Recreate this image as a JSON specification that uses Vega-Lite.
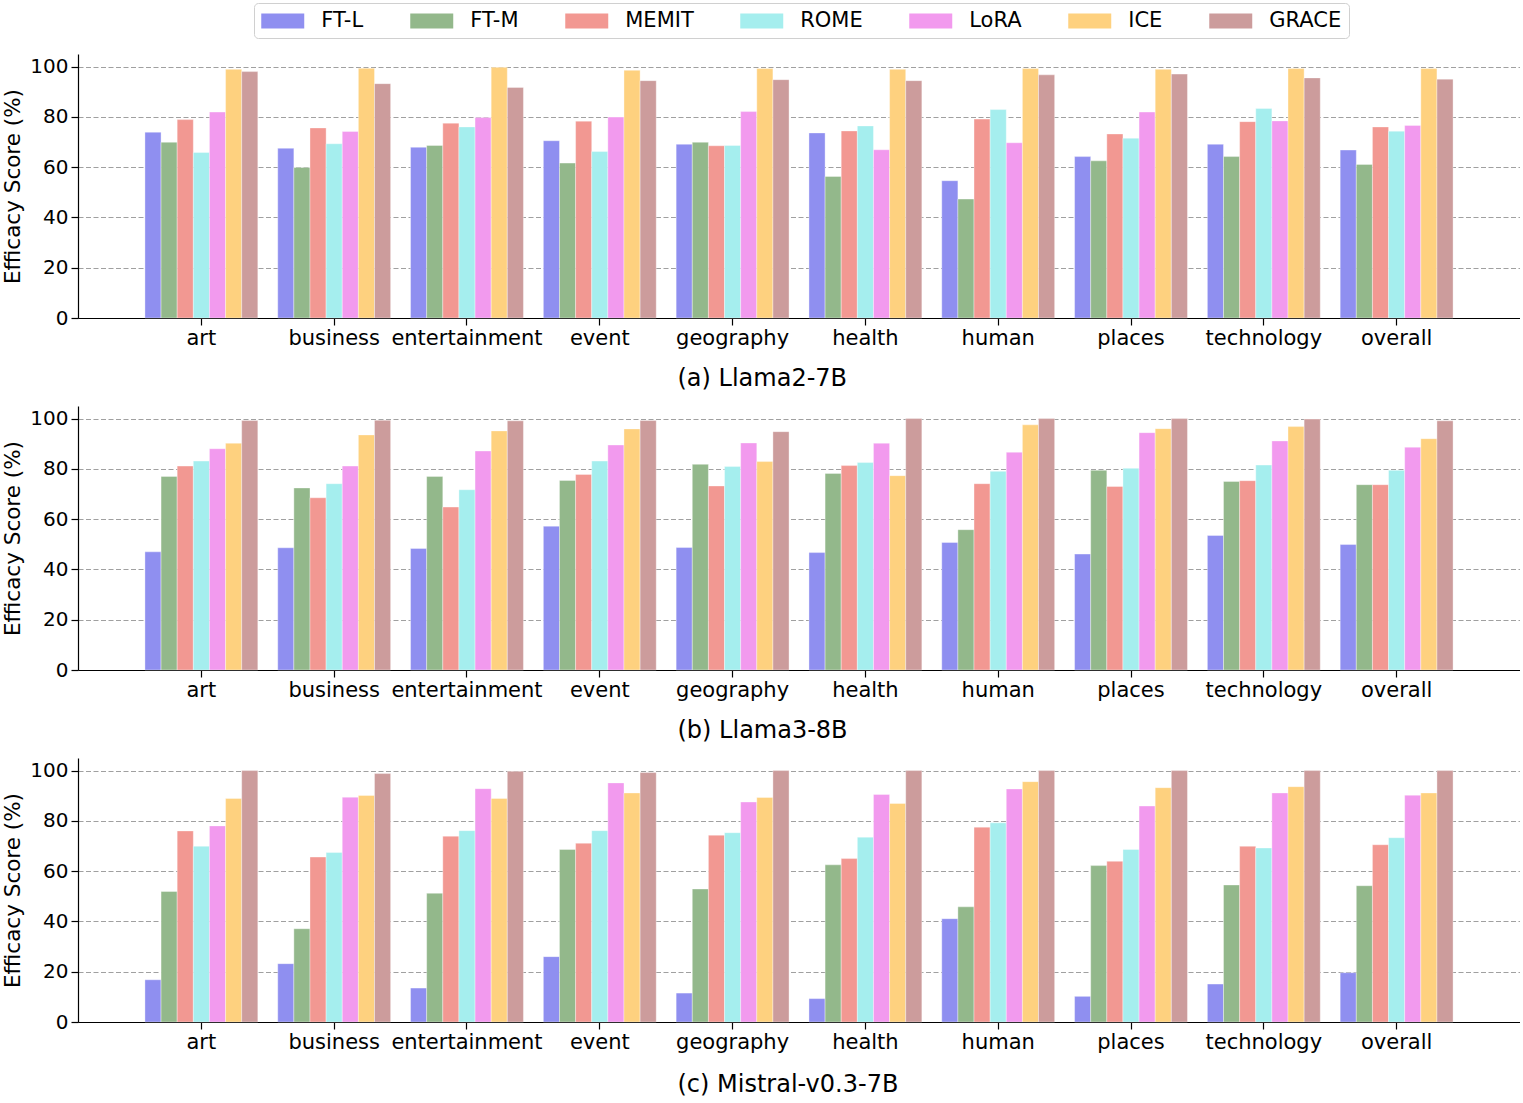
{
  "$schema": "https://vega.github.io/schema/vega-lite/v6.json",
  "autosize": {"type": "pad"},
  "padding": {"left": 2, "top": 2, "right": 0, "bottom": 0},
  "background": "white",
  "spacing": 16,
  "config": {
    "font": "DejaVu Sans",
    "view": {"stroke": null},
    "axis": {
      "labelColor": "black",
      "titleColor": "black",
      "domainColor": "black",
      "tickColor": "black",
      "labelFont": "DejaVu Sans",
      "titleFont": "DejaVu Sans",
      "titleFontWeight": "normal"
    },
    "legend": {"labelFont": "DejaVu Sans"}
  },
  "data": {
    "values": [
      {"model": "a", "category": "art", "method": "FT-L", "score": 73.9},
      {"model": "a", "category": "art", "method": "FT-M", "score": 69.9},
      {"model": "a", "category": "art", "method": "MEMIT", "score": 78.9},
      {"model": "a", "category": "art", "method": "ROME", "score": 65.8},
      {"model": "a", "category": "art", "method": "LoRA", "score": 81.9},
      {"model": "a", "category": "art", "method": "ICE", "score": 98.9},
      {"model": "a", "category": "art", "method": "GRACE", "score": 98.0},
      {"model": "a", "category": "business", "method": "FT-L", "score": 67.5},
      {"model": "a", "category": "business", "method": "FT-M", "score": 59.9},
      {"model": "a", "category": "business", "method": "MEMIT", "score": 75.6},
      {"model": "a", "category": "business", "method": "ROME", "score": 69.3},
      {"model": "a", "category": "business", "method": "LoRA", "score": 74.2},
      {"model": "a", "category": "business", "method": "ICE", "score": 99.3},
      {"model": "a", "category": "business", "method": "GRACE", "score": 93.2},
      {"model": "a", "category": "entertainment", "method": "FT-L", "score": 67.9},
      {"model": "a", "category": "entertainment", "method": "FT-M", "score": 68.6},
      {"model": "a", "category": "entertainment", "method": "MEMIT", "score": 77.5},
      {"model": "a", "category": "entertainment", "method": "ROME", "score": 76.0},
      {"model": "a", "category": "entertainment", "method": "LoRA", "score": 79.7},
      {"model": "a", "category": "entertainment", "method": "ICE", "score": 99.7},
      {"model": "a", "category": "entertainment", "method": "GRACE", "score": 91.7},
      {"model": "a", "category": "event", "method": "FT-L", "score": 70.5},
      {"model": "a", "category": "event", "method": "FT-M", "score": 61.6},
      {"model": "a", "category": "event", "method": "MEMIT", "score": 78.3},
      {"model": "a", "category": "event", "method": "ROME", "score": 66.2},
      {"model": "a", "category": "event", "method": "LoRA", "score": 79.9},
      {"model": "a", "category": "event", "method": "ICE", "score": 98.5},
      {"model": "a", "category": "event", "method": "GRACE", "score": 94.4},
      {"model": "a", "category": "geography", "method": "FT-L", "score": 69.1},
      {"model": "a", "category": "geography", "method": "FT-M", "score": 69.9},
      {"model": "a", "category": "geography", "method": "MEMIT", "score": 68.5},
      {"model": "a", "category": "geography", "method": "ROME", "score": 68.6},
      {"model": "a", "category": "geography", "method": "LoRA", "score": 82.1},
      {"model": "a", "category": "geography", "method": "ICE", "score": 99.2},
      {"model": "a", "category": "geography", "method": "GRACE", "score": 94.8},
      {"model": "a", "category": "health", "method": "FT-L", "score": 73.6},
      {"model": "a", "category": "health", "method": "FT-M", "score": 56.3},
      {"model": "a", "category": "health", "method": "MEMIT", "score": 74.4},
      {"model": "a", "category": "health", "method": "ROME", "score": 76.4},
      {"model": "a", "category": "health", "method": "LoRA", "score": 66.9},
      {"model": "a", "category": "health", "method": "ICE", "score": 98.9},
      {"model": "a", "category": "health", "method": "GRACE", "score": 94.4},
      {"model": "a", "category": "human", "method": "FT-L", "score": 54.6},
      {"model": "a", "category": "human", "method": "FT-M", "score": 47.3},
      {"model": "a", "category": "human", "method": "MEMIT", "score": 79.1},
      {"model": "a", "category": "human", "method": "ROME", "score": 82.9},
      {"model": "a", "category": "human", "method": "LoRA", "score": 69.7},
      {"model": "a", "category": "human", "method": "ICE", "score": 99.2},
      {"model": "a", "category": "human", "method": "GRACE", "score": 96.7},
      {"model": "a", "category": "places", "method": "FT-L", "score": 64.2},
      {"model": "a", "category": "places", "method": "FT-M", "score": 62.5},
      {"model": "a", "category": "places", "method": "MEMIT", "score": 73.2},
      {"model": "a", "category": "places", "method": "ROME", "score": 71.5},
      {"model": "a", "category": "places", "method": "LoRA", "score": 81.9},
      {"model": "a", "category": "places", "method": "ICE", "score": 98.9},
      {"model": "a", "category": "places", "method": "GRACE", "score": 97.0},
      {"model": "a", "category": "technology", "method": "FT-L", "score": 69.1},
      {"model": "a", "category": "technology", "method": "FT-M", "score": 64.2},
      {"model": "a", "category": "technology", "method": "MEMIT", "score": 78.1},
      {"model": "a", "category": "technology", "method": "ROME", "score": 83.3},
      {"model": "a", "category": "technology", "method": "LoRA", "score": 78.4},
      {"model": "a", "category": "technology", "method": "ICE", "score": 99.2},
      {"model": "a", "category": "technology", "method": "GRACE", "score": 95.5},
      {"model": "a", "category": "overall", "method": "FT-L", "score": 66.8},
      {"model": "a", "category": "overall", "method": "FT-M", "score": 61.1},
      {"model": "a", "category": "overall", "method": "MEMIT", "score": 76.0},
      {"model": "a", "category": "overall", "method": "ROME", "score": 74.3},
      {"model": "a", "category": "overall", "method": "LoRA", "score": 76.6},
      {"model": "a", "category": "overall", "method": "ICE", "score": 99.2},
      {"model": "a", "category": "overall", "method": "GRACE", "score": 95.0},

      {"model": "b", "category": "art", "method": "FT-L", "score": 47.0},
      {"model": "b", "category": "art", "method": "FT-M", "score": 77.0},
      {"model": "b", "category": "art", "method": "MEMIT", "score": 81.1},
      {"model": "b", "category": "art", "method": "ROME", "score": 83.1},
      {"model": "b", "category": "art", "method": "LoRA", "score": 88.0},
      {"model": "b", "category": "art", "method": "ICE", "score": 90.2},
      {"model": "b", "category": "art", "method": "GRACE", "score": 99.2},
      {"model": "b", "category": "business", "method": "FT-L", "score": 48.6},
      {"model": "b", "category": "business", "method": "FT-M", "score": 72.4},
      {"model": "b", "category": "business", "method": "MEMIT", "score": 68.5},
      {"model": "b", "category": "business", "method": "ROME", "score": 74.1},
      {"model": "b", "category": "business", "method": "LoRA", "score": 81.1},
      {"model": "b", "category": "business", "method": "ICE", "score": 93.5},
      {"model": "b", "category": "business", "method": "GRACE", "score": 99.3},
      {"model": "b", "category": "entertainment", "method": "FT-L", "score": 48.3},
      {"model": "b", "category": "entertainment", "method": "FT-M", "score": 77.0},
      {"model": "b", "category": "entertainment", "method": "MEMIT", "score": 64.8},
      {"model": "b", "category": "entertainment", "method": "ROME", "score": 71.7},
      {"model": "b", "category": "entertainment", "method": "LoRA", "score": 87.1},
      {"model": "b", "category": "entertainment", "method": "ICE", "score": 95.1},
      {"model": "b", "category": "entertainment", "method": "GRACE", "score": 99.1},
      {"model": "b", "category": "event", "method": "FT-L", "score": 57.2},
      {"model": "b", "category": "event", "method": "FT-M", "score": 75.4},
      {"model": "b", "category": "event", "method": "MEMIT", "score": 77.8},
      {"model": "b", "category": "event", "method": "ROME", "score": 83.1},
      {"model": "b", "category": "event", "method": "LoRA", "score": 89.5},
      {"model": "b", "category": "event", "method": "ICE", "score": 95.9},
      {"model": "b", "category": "event", "method": "GRACE", "score": 99.2},
      {"model": "b", "category": "geography", "method": "FT-L", "score": 48.7},
      {"model": "b", "category": "geography", "method": "FT-M", "score": 81.8},
      {"model": "b", "category": "geography", "method": "MEMIT", "score": 73.2},
      {"model": "b", "category": "geography", "method": "ROME", "score": 80.9},
      {"model": "b", "category": "geography", "method": "LoRA", "score": 90.3},
      {"model": "b", "category": "geography", "method": "ICE", "score": 82.9},
      {"model": "b", "category": "geography", "method": "GRACE", "score": 94.8},
      {"model": "b", "category": "health", "method": "FT-L", "score": 46.7},
      {"model": "b", "category": "health", "method": "FT-M", "score": 78.2},
      {"model": "b", "category": "health", "method": "MEMIT", "score": 81.3},
      {"model": "b", "category": "health", "method": "ROME", "score": 82.5},
      {"model": "b", "category": "health", "method": "LoRA", "score": 90.2},
      {"model": "b", "category": "health", "method": "ICE", "score": 77.3},
      {"model": "b", "category": "health", "method": "GRACE", "score": 100.0},
      {"model": "b", "category": "human", "method": "FT-L", "score": 50.7},
      {"model": "b", "category": "human", "method": "FT-M", "score": 55.8},
      {"model": "b", "category": "human", "method": "MEMIT", "score": 74.1},
      {"model": "b", "category": "human", "method": "ROME", "score": 79.0},
      {"model": "b", "category": "human", "method": "LoRA", "score": 86.6},
      {"model": "b", "category": "human", "method": "ICE", "score": 97.5},
      {"model": "b", "category": "human", "method": "GRACE", "score": 100.0},
      {"model": "b", "category": "places", "method": "FT-L", "score": 46.1},
      {"model": "b", "category": "places", "method": "FT-M", "score": 79.4},
      {"model": "b", "category": "places", "method": "MEMIT", "score": 73.0},
      {"model": "b", "category": "places", "method": "ROME", "score": 80.2},
      {"model": "b", "category": "places", "method": "LoRA", "score": 94.4},
      {"model": "b", "category": "places", "method": "ICE", "score": 96.0},
      {"model": "b", "category": "places", "method": "GRACE", "score": 100.0},
      {"model": "b", "category": "technology", "method": "FT-L", "score": 53.5},
      {"model": "b", "category": "technology", "method": "FT-M", "score": 75.0},
      {"model": "b", "category": "technology", "method": "MEMIT", "score": 75.3},
      {"model": "b", "category": "technology", "method": "ROME", "score": 81.5},
      {"model": "b", "category": "technology", "method": "LoRA", "score": 91.1},
      {"model": "b", "category": "technology", "method": "ICE", "score": 96.8},
      {"model": "b", "category": "technology", "method": "GRACE", "score": 99.8},
      {"model": "b", "category": "overall", "method": "FT-L", "score": 49.9},
      {"model": "b", "category": "overall", "method": "FT-M", "score": 73.7},
      {"model": "b", "category": "overall", "method": "MEMIT", "score": 73.7},
      {"model": "b", "category": "overall", "method": "ROME", "score": 79.4},
      {"model": "b", "category": "overall", "method": "LoRA", "score": 88.6},
      {"model": "b", "category": "overall", "method": "ICE", "score": 92.0},
      {"model": "b", "category": "overall", "method": "GRACE", "score": 99.1},

      {"model": "c", "category": "art", "method": "FT-L", "score": 16.8},
      {"model": "c", "category": "art", "method": "FT-M", "score": 51.9},
      {"model": "c", "category": "art", "method": "MEMIT", "score": 76.0},
      {"model": "c", "category": "art", "method": "ROME", "score": 69.9},
      {"model": "c", "category": "art", "method": "LoRA", "score": 78.0},
      {"model": "c", "category": "art", "method": "ICE", "score": 88.9},
      {"model": "c", "category": "art", "method": "GRACE", "score": 100.0},
      {"model": "c", "category": "business", "method": "FT-L", "score": 23.2},
      {"model": "c", "category": "business", "method": "FT-M", "score": 37.1},
      {"model": "c", "category": "business", "method": "MEMIT", "score": 65.6},
      {"model": "c", "category": "business", "method": "ROME", "score": 67.4},
      {"model": "c", "category": "business", "method": "LoRA", "score": 89.4},
      {"model": "c", "category": "business", "method": "ICE", "score": 90.1},
      {"model": "c", "category": "business", "method": "GRACE", "score": 98.8},
      {"model": "c", "category": "entertainment", "method": "FT-L", "score": 13.5},
      {"model": "c", "category": "entertainment", "method": "FT-M", "score": 51.2},
      {"model": "c", "category": "entertainment", "method": "MEMIT", "score": 73.9},
      {"model": "c", "category": "entertainment", "method": "ROME", "score": 76.1},
      {"model": "c", "category": "entertainment", "method": "LoRA", "score": 92.8},
      {"model": "c", "category": "entertainment", "method": "ICE", "score": 88.9},
      {"model": "c", "category": "entertainment", "method": "GRACE", "score": 99.7},
      {"model": "c", "category": "event", "method": "FT-L", "score": 26.0},
      {"model": "c", "category": "event", "method": "FT-M", "score": 68.6},
      {"model": "c", "category": "event", "method": "MEMIT", "score": 71.1},
      {"model": "c", "category": "event", "method": "ROME", "score": 76.1},
      {"model": "c", "category": "event", "method": "LoRA", "score": 95.1},
      {"model": "c", "category": "event", "method": "ICE", "score": 91.1},
      {"model": "c", "category": "event", "method": "GRACE", "score": 99.2},
      {"model": "c", "category": "geography", "method": "FT-L", "score": 11.5},
      {"model": "c", "category": "geography", "method": "FT-M", "score": 52.9},
      {"model": "c", "category": "geography", "method": "MEMIT", "score": 74.3},
      {"model": "c", "category": "geography", "method": "ROME", "score": 75.3},
      {"model": "c", "category": "geography", "method": "LoRA", "score": 87.5},
      {"model": "c", "category": "geography", "method": "ICE", "score": 89.3},
      {"model": "c", "category": "geography", "method": "GRACE", "score": 100.0},
      {"model": "c", "category": "health", "method": "FT-L", "score": 9.3},
      {"model": "c", "category": "health", "method": "FT-M", "score": 62.5},
      {"model": "c", "category": "health", "method": "MEMIT", "score": 65.0},
      {"model": "c", "category": "health", "method": "ROME", "score": 73.5},
      {"model": "c", "category": "health", "method": "LoRA", "score": 90.5},
      {"model": "c", "category": "health", "method": "ICE", "score": 86.9},
      {"model": "c", "category": "health", "method": "GRACE", "score": 100.0},
      {"model": "c", "category": "human", "method": "FT-L", "score": 41.1},
      {"model": "c", "category": "human", "method": "FT-M", "score": 45.8},
      {"model": "c", "category": "human", "method": "MEMIT", "score": 77.5},
      {"model": "c", "category": "human", "method": "ROME", "score": 79.2},
      {"model": "c", "category": "human", "method": "LoRA", "score": 92.7},
      {"model": "c", "category": "human", "method": "ICE", "score": 95.6},
      {"model": "c", "category": "human", "method": "GRACE", "score": 100.0},
      {"model": "c", "category": "places", "method": "FT-L", "score": 10.2},
      {"model": "c", "category": "places", "method": "FT-M", "score": 62.2},
      {"model": "c", "category": "places", "method": "MEMIT", "score": 63.9},
      {"model": "c", "category": "places", "method": "ROME", "score": 68.6},
      {"model": "c", "category": "places", "method": "LoRA", "score": 85.9},
      {"model": "c", "category": "places", "method": "ICE", "score": 93.2},
      {"model": "c", "category": "places", "method": "GRACE", "score": 100.0},
      {"model": "c", "category": "technology", "method": "FT-L", "score": 15.1},
      {"model": "c", "category": "technology", "method": "FT-M", "score": 54.5},
      {"model": "c", "category": "technology", "method": "MEMIT", "score": 69.9},
      {"model": "c", "category": "technology", "method": "ROME", "score": 69.2},
      {"model": "c", "category": "technology", "method": "LoRA", "score": 91.1},
      {"model": "c", "category": "technology", "method": "ICE", "score": 93.6},
      {"model": "c", "category": "technology", "method": "GRACE", "score": 100.0},
      {"model": "c", "category": "overall", "method": "FT-L", "score": 19.6},
      {"model": "c", "category": "overall", "method": "FT-M", "score": 54.2},
      {"model": "c", "category": "overall", "method": "MEMIT", "score": 70.5},
      {"model": "c", "category": "overall", "method": "ROME", "score": 73.3},
      {"model": "c", "category": "overall", "method": "LoRA", "score": 90.2},
      {"model": "c", "category": "overall", "method": "ICE", "score": 91.1},
      {"model": "c", "category": "overall", "method": "GRACE", "score": 100.0}
    ]
  },
  "vconcat": [
    {
      "width": 1442,
      "height": 264,
      "transform": [{"filter": "datum.model === 'a'"}],
      "mark": {"type": "bar", "stroke": "white", "strokeWidth": 0.6, "strokeOpacity": 0.6},
      "encoding": {
        "x": {
          "field": "category", "type": "nominal",
          "sort": ["art", "business", "entertainment", "event", "geography", "health", "human", "places", "technology", "overall"],
          "scale": {"paddingInner": 0.15, "paddingOuter": 0.504},
          "axis": {"title": "(a) Llama2-7B", "labelAngle": 0, "labelFontSize": 21, "tickSize": 7, "labelPadding": 2, "domainWidth": 1.2, "tickWidth": 1.2, "titleFontSize": 24, "titleX": 599, "titleY": 60, "titleAlign": "left", "titleBaseline": "middle", "grid": false}
        },
        "xOffset": {
          "field": "method", "type": "nominal",
          "sort": ["FT-L", "FT-M", "MEMIT", "ROME", "LoRA", "ICE", "GRACE"],
          "scale": {"paddingInner": 0, "paddingOuter": 0}
        },
        "y": {
          "field": "score", "type": "quantitative",
          "scale": {"domain": [0, 105], "nice": false},
          "axis": {"title": "Efficacy Score (%)", "values": [0, 20, 40, 60, 80, 100], "titleFontSize": 21.5, "labelFontSize": 20, "tickSize": 7, "labelPadding": 3, "titlePadding": 5, "gridDash": [5, 2.5], "gridColor": "#a0a0a0", "gridWidth": 1.1, "domainWidth": 1.2, "tickWidth": 1.2}
        },
        "color": {
          "field": "method", "type": "nominal",
          "scale": {"domain": ["FT-L", "FT-M", "MEMIT", "ROME", "LoRA", "ICE", "GRACE"], "range": ["#8f8ff0", "#93b88b", "#f29892", "#a5eeee", "#f29aee", "#fed17f", "#cc9c9c"]},
          "legend": {"title": null, "orient": "none", "legendX": 176, "legendY": -51, "direction": "horizontal", "symbolType": "M-2,-0.7H2V0.7H-2Z", "symbolSize": 462, "symbolOffset": 10.75, "symbolStrokeWidth": 0, "labelFontSize": 21, "labelOffset": 27.5, "columnPadding": 46, "padding": 7, "strokeColor": "#d0d0d0", "fillColor": "white", "cornerRadius": 4, "labelColor": "black"}
        }
      }
    },
    {
      "width": 1442,
      "height": 264,
      "transform": [{"filter": "datum.model === 'b'"}],
      "mark": {"type": "bar", "stroke": "white", "strokeWidth": 0.6, "strokeOpacity": 0.6},
      "encoding": {
        "x": {
          "field": "category", "type": "nominal",
          "sort": ["art", "business", "entertainment", "event", "geography", "health", "human", "places", "technology", "overall"],
          "scale": {"paddingInner": 0.15, "paddingOuter": 0.504},
          "axis": {"title": "(b) Llama3-8B", "labelAngle": 0, "labelFontSize": 21, "tickSize": 7, "labelPadding": 2, "domainWidth": 1.2, "tickWidth": 1.2, "titleFontSize": 24, "titleX": 599, "titleY": 60, "titleAlign": "left", "titleBaseline": "middle", "grid": false}
        },
        "xOffset": {
          "field": "method", "type": "nominal",
          "sort": ["FT-L", "FT-M", "MEMIT", "ROME", "LoRA", "ICE", "GRACE"],
          "scale": {"paddingInner": 0, "paddingOuter": 0}
        },
        "y": {
          "field": "score", "type": "quantitative",
          "scale": {"domain": [0, 105], "nice": false},
          "axis": {"title": "Efficacy Score (%)", "values": [0, 20, 40, 60, 80, 100], "titleFontSize": 21.5, "labelFontSize": 20, "tickSize": 7, "labelPadding": 3, "titlePadding": 5, "gridDash": [5, 2.5], "gridColor": "#a0a0a0", "gridWidth": 1.1, "domainWidth": 1.2, "tickWidth": 1.2}
        },
        "color": {
          "field": "method", "type": "nominal",
          "scale": {"domain": ["FT-L", "FT-M", "MEMIT", "ROME", "LoRA", "ICE", "GRACE"], "range": ["#8f8ff0", "#93b88b", "#f29892", "#a5eeee", "#f29aee", "#fed17f", "#cc9c9c"]},
          "legend": {"title": null, "orient": "none", "legendX": 176, "legendY": -51, "direction": "horizontal", "symbolType": "M-2,-0.7H2V0.7H-2Z", "symbolSize": 462, "symbolOffset": 10.75, "symbolStrokeWidth": 0, "labelFontSize": 21, "labelOffset": 27.5, "columnPadding": 46, "padding": 7, "strokeColor": "#d0d0d0", "fillColor": "white", "cornerRadius": 4, "labelColor": "black"}
        }
      }
    },
    {
      "width": 1442,
      "height": 264,
      "transform": [{"filter": "datum.model === 'c'"}],
      "mark": {"type": "bar", "stroke": "white", "strokeWidth": 0.6, "strokeOpacity": 0.6},
      "encoding": {
        "x": {
          "field": "category", "type": "nominal",
          "sort": ["art", "business", "entertainment", "event", "geography", "health", "human", "places", "technology", "overall"],
          "scale": {"paddingInner": 0.15, "paddingOuter": 0.504},
          "axis": {"title": "(c) Mistral-v0.3-7B", "labelAngle": 0, "labelFontSize": 21, "tickSize": 7, "labelPadding": 2, "domainWidth": 1.2, "tickWidth": 1.2, "titleFontSize": 24, "titleX": 599, "titleY": 62, "titleAlign": "left", "titleBaseline": "middle", "grid": false}
        },
        "xOffset": {
          "field": "method", "type": "nominal",
          "sort": ["FT-L", "FT-M", "MEMIT", "ROME", "LoRA", "ICE", "GRACE"],
          "scale": {"paddingInner": 0, "paddingOuter": 0}
        },
        "y": {
          "field": "score", "type": "quantitative",
          "scale": {"domain": [0, 105], "nice": false},
          "axis": {"title": "Efficacy Score (%)", "values": [0, 20, 40, 60, 80, 100], "titleFontSize": 21.5, "labelFontSize": 20, "tickSize": 7, "labelPadding": 3, "titlePadding": 5, "gridDash": [5, 2.5], "gridColor": "#a0a0a0", "gridWidth": 1.1, "domainWidth": 1.2, "tickWidth": 1.2}
        },
        "color": {
          "field": "method", "type": "nominal",
          "scale": {"domain": ["FT-L", "FT-M", "MEMIT", "ROME", "LoRA", "ICE", "GRACE"], "range": ["#8f8ff0", "#93b88b", "#f29892", "#a5eeee", "#f29aee", "#fed17f", "#cc9c9c"]},
          "legend": {"title": null, "orient": "none", "legendX": 176, "legendY": -51, "direction": "horizontal", "symbolType": "M-2,-0.7H2V0.7H-2Z", "symbolSize": 462, "symbolOffset": 10.75, "symbolStrokeWidth": 0, "labelFontSize": 21, "labelOffset": 27.5, "columnPadding": 46, "padding": 7, "strokeColor": "#d0d0d0", "fillColor": "white", "cornerRadius": 4, "labelColor": "black"}
        }
      }
    }
  ]
}
